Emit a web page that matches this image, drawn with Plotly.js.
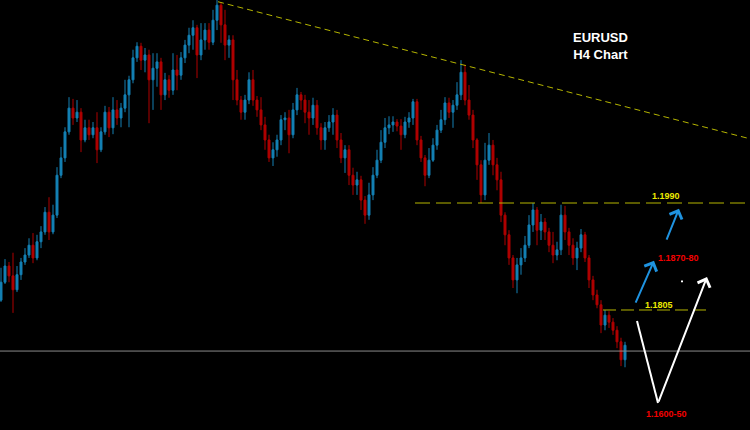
<!DOCTYPE html>
<html>
<head>
<meta charset="utf-8">
<script src="https://cdn.plot.ly/plotly-3.0.1.min.js"></script>
<style>html,body{margin:0;padding:0;background:#000;}#chart{width:750px;height:430px;}</style>
</head>
<body>
<div id="chart"></div>
<script>
// EURUSD H4 candles
const opens = [1.1822,1.1853,1.1881,1.1864,1.1840,1.1866,1.1888,1.1900,1.1917,1.1895,
1.1923,1.1940,1.1974,1.1940,1.1969,1.2038,1.2068,1.2113,1.2154,1.2137,
1.2147,1.2099,1.2120,1.2108,1.2120,1.2082,1.2113,1.2147,1.2120,1.2151,
1.2137,1.2154,1.2177,1.2203,1.2241,1.2261,1.2237,1.2246,1.2203,1.2223,
1.2234,1.2177,1.2203,1.2185,1.2220,1.2211,1.2241,1.2263,1.2280,1.2293,
1.2246,1.2272,1.2289,1.2268,1.2306,1.2332,1.2298,1.2263,1.2272,1.2203,
1.2168,1.2147,1.2168,1.2203,1.2168,1.2151,1.2125,1.2099,1.2068,1.2082,
1.2099,1.2134,1.2137,1.2108,1.2151,1.2177,1.2168,1.2147,1.2137,1.2159,
1.2120,1.2099,1.2120,1.2130,1.2142,1.2099,1.2068,1.2082,1.2038,1.2021,
1.2030,1.1995,1.1969,1.2004,1.2038,1.2064,1.2095,1.2120,1.2125,1.2130,
1.2123,1.2108,1.2130,1.2137,1.2165,1.2099,1.2068,1.2038,1.2064,1.2090,
1.2116,1.2134,1.2163,1.2147,1.2159,1.2177,1.2216,1.2168,1.2142,1.2099,
1.2056,1.2004,1.2064,1.2090,1.2056,1.2030,1.1969,1.1935,1.1895,1.1857,
1.1883,1.1895,1.1917,1.1952,1.1978,1.1943,1.1957,1.1940,1.1917,1.1900,
1.1909,1.1969,1.1940,1.1917,1.1895,1.1912,1.1935,1.1895,1.1857,1.1831,
1.1814,1.1779,1.1796,1.1784,1.1770,1.1750,1.1719];
const highs = [1.1878,1.1893,1.1888,1.1904,1.1881,1.1895,1.1912,1.1929,1.1938,1.1935,
1.1950,1.1983,1.2000,1.1987,1.2052,1.2087,1.2121,1.2173,1.2170,1.2168,
1.2154,1.2134,1.2134,1.2130,1.2147,1.2121,1.2158,1.2156,1.2173,1.2168,
1.2163,1.2203,1.2210,1.2255,1.2268,1.2267,1.2258,1.2255,1.2249,1.2249,
1.2241,1.2215,1.2211,1.2249,1.2246,1.2251,1.2272,1.2293,1.2306,1.2298,
1.2301,1.2301,1.2301,1.2324,1.2341,1.2337,1.2324,1.2280,1.2280,1.2220,
1.2175,1.2177,1.2216,1.2220,1.2175,1.2173,1.2139,1.2108,1.2095,1.2108,
1.2142,1.2147,1.2151,1.2163,1.2189,1.2182,1.2177,1.2168,1.2172,1.2168,
1.2128,1.2130,1.2142,1.2154,1.2151,1.2111,1.2090,1.2090,1.2051,1.2044,
1.2037,1.2002,1.2025,1.2052,1.2082,1.2116,1.2137,1.2140,1.2140,1.2135,
1.2135,1.2139,1.2147,1.2170,1.2170,1.2106,1.2073,1.2085,1.2102,1.2125,
1.2151,1.2173,1.2172,1.2168,1.2199,1.2237,1.2229,1.2194,1.2151,1.2102,
1.2064,1.2094,1.2111,1.2099,1.2068,1.2044,1.1974,1.1943,1.1900,1.1895,
1.1912,1.1933,1.1969,1.1990,1.1983,1.1971,1.1964,1.1947,1.1940,1.1923,
1.1987,1.1985,1.1947,1.1929,1.1923,1.1945,1.1940,1.1900,1.1864,1.1840,
1.1822,1.1805,1.1803,1.1791,1.1777,1.1757,1.1750];
const lows = [1.1819,1.1850,1.1853,1.1800,1.1836,1.1857,1.1883,1.1895,1.1886,1.1891,
1.1912,1.1935,1.1926,1.1936,1.1964,1.2033,1.2061,1.2108,1.2125,1.2130,
1.2078,1.2095,1.2099,1.2102,1.2059,1.2078,1.2108,1.2104,1.2109,1.2125,
1.2121,1.2147,1.2121,1.2197,1.2234,1.2220,1.2216,1.2128,1.2151,1.2191,
1.2151,1.2168,1.2172,1.2177,1.2185,1.2203,1.2232,1.2249,1.2255,1.2206,
1.2237,1.2255,1.2255,1.2263,1.2289,1.2267,1.2237,1.2241,1.2168,1.2159,
1.2134,1.2134,1.2161,1.2158,1.2139,1.2116,1.2082,1.2061,1.2054,1.2070,
1.2090,1.2116,1.2076,1.2102,1.2142,1.2151,1.2128,1.2108,1.2125,1.2108,
1.2082,1.2082,1.2113,1.2108,1.2085,1.2059,1.2042,1.2021,1.2004,1.2004,
1.1978,1.1954,1.1961,1.1995,1.2033,1.2059,1.2085,1.2109,1.2113,1.2114,
1.2082,1.2102,1.2120,1.2125,1.2090,1.2061,1.2019,1.2033,1.2061,1.2082,
1.2111,1.2125,1.2137,1.2120,1.2151,1.2168,1.2159,1.2134,1.2085,1.2030,
1.1990,1.1995,1.2056,1.2038,1.2012,1.1957,1.1917,1.1883,1.1843,1.1834,
1.1866,1.1888,1.1912,1.1940,1.1917,1.1926,1.1926,1.1905,1.1886,1.1891,
1.1900,1.1926,1.1900,1.1883,1.1874,1.1905,1.1888,1.1843,1.1822,1.1808,
1.1765,1.1770,1.1774,1.1762,1.1739,1.1708,1.1706];
const closes = [1.1853,1.1881,1.1864,1.1840,1.1866,1.1888,1.1900,1.1917,1.1895,1.1923,
1.1940,1.1974,1.1940,1.1969,1.2038,1.2068,1.2113,1.2154,1.2137,1.2147,
1.2099,1.2120,1.2108,1.2120,1.2082,1.2113,1.2147,1.2120,1.2151,1.2137,
1.2154,1.2177,1.2203,1.2241,1.2261,1.2237,1.2246,1.2203,1.2223,1.2234,
1.2177,1.2203,1.2185,1.2220,1.2211,1.2241,1.2263,1.2280,1.2293,1.2246,
1.2272,1.2289,1.2268,1.2306,1.2332,1.2298,1.2263,1.2272,1.2203,1.2168,
1.2147,1.2168,1.2203,1.2168,1.2151,1.2125,1.2099,1.2068,1.2082,1.2099,
1.2134,1.2137,1.2108,1.2151,1.2177,1.2168,1.2147,1.2137,1.2159,1.2120,
1.2099,1.2120,1.2130,1.2142,1.2099,1.2068,1.2082,1.2038,1.2021,1.2030,
1.1995,1.1969,1.2004,1.2038,1.2064,1.2095,1.2120,1.2125,1.2130,1.2123,
1.2108,1.2130,1.2137,1.2165,1.2099,1.2068,1.2038,1.2064,1.2090,1.2116,
1.2134,1.2163,1.2147,1.2159,1.2177,1.2216,1.2168,1.2142,1.2099,1.2056,
1.2004,1.2064,1.2090,1.2056,1.2030,1.1969,1.1935,1.1895,1.1857,1.1883,
1.1895,1.1917,1.1952,1.1978,1.1943,1.1957,1.1940,1.1917,1.1900,1.1909,
1.1969,1.1940,1.1917,1.1895,1.1912,1.1935,1.1895,1.1857,1.1831,1.1814,
1.1779,1.1796,1.1784,1.1770,1.1750,1.1719,1.1744];

// Key levels and labels
const resistance = 1.1990;
const support = 1.1805;
const currentPrice = 1.1734;
const titleLines = ["EURUSD", "H4 Chart"];
const levelLabels = ["1.1990", "1.1870-80", "1.1805", "1.1600-50"];

const xs = closes.map((_, i) => i);

const yellowLine = "#b5b500";
const yellowText = "#ecec00";
const redText = "#f20000";
const blueArrow = "#1f93e0";
const fontFam = "Liberation Sans, Arial, sans-serif";

const trace = {
  type: "candlestick",
  x: xs, open: opens, high: highs, low: lows, close: closes,
  increasing: {line: {color: "#1480b4", width: 1}, fillcolor: "#1480b4"},
  decreasing: {line: {color: "#b00000", width: 1}, fillcolor: "#b00000"},
  whiskerwidth: 0,
  hoverinfo: "skip",
  showlegend: false
};

const shapes = [
  // falling trendline
  {type: "line", xref: "x", yref: "y", x0: 54.25, y0: 1.2338, x1: 187.25, y1: 1.2101,
   line: {color: yellowLine, width: 1, dash: "6px,4px"}},
  // resistance 1.1990
  {type: "line", xref: "x", yref: "y", x0: 103.5, y0: resistance, x1: 187.25, y1: resistance,
   line: {color: yellowLine, width: 1, dash: "15px,6px"}},
  // support 1.1805
  {type: "line", xref: "x", yref: "y", x0: 150.5, y0: support, x1: 176.75, y1: support,
   line: {color: yellowLine, width: 1, dash: "13px,5px"}},
  // current price line
  {type: "line", xref: "paper", yref: "y", x0: 0, y0: currentPrice, x1: 1, y1: currentPrice,
   line: {color: "#8a8a8a", width: 1}},
  // white V left leg
  {type: "line", xref: "x", yref: "y", x0: 159.0, y0: 1.1786, x1: 164.25, y1: 1.1644,
   line: {color: "#ffffff", width: 2}},
  // small white dot
  {type: "rect", xref: "x", yref: "y", x0: 170.0, y0: 1.1853, x1: 170.5, y1: 1.1856,
   line: {width: 0}, fillcolor: "#ffffff"}
];

function label(text, x, y, color, size) {
  return {text: "<b>" + text + "</b>", x: x, y: y, xref: "x", yref: "y", showarrow: false,
          font: {family: fontFam, size: size, color: color}, xanchor: "center", yanchor: "middle"};
}
function arrow(x, y, ax, ay, color) {
  return {text: "", x: x, y: y, ax: ax, ay: ay, xref: "x", yref: "y", axref: "x", ayref: "y",
          showarrow: true, arrowhead: 4, arrowsize: 1.3, arrowwidth: 2, arrowcolor: color,
          standoff: 0, startstandoff: 0};
}

const annotations = [
  label(titleLines.join("</b><br><b>"), 149.75, 1.2262, "#ffffff", 13),
  label(levelLabels[0], 166.25, 1.2002, yellowText, 9),
  label(levelLabels[1], 169.25, 1.1895, redText, 9),
  label(levelLabels[2], 164.5, 1.1814, yellowText, 9),
  label(levelLabels[3], 166.25, 1.1625, redText, 9),
  arrow(163.25, 1.1890, 158.5, 1.1815, blueArrow),
  arrow(169.5, 1.1980, 166.25, 1.1924, blueArrow),
  arrow(176.5, 1.1862, 164.25, 1.1644, "#ffffff")
];

const layout = {
  width: 750, height: 430,
  margin: {l: 0, r: 0, t: 0, b: 0, pad: 0},
  paper_bgcolor: "#000000", plot_bgcolor: "#000000",
  showlegend: false, hovermode: false,
  xaxis: {range: [-0.25, 187.25], visible: false, showgrid: false, zeroline: false,
          rangeslider: {visible: false}, fixedrange: true},
  yaxis: {range: [1.15975, 1.2341], visible: false, showgrid: false, zeroline: false, fixedrange: true},
  shapes: shapes,
  annotations: annotations
};

Plotly.newPlot("chart", [trace], layout, {staticPlot: true, displayModeBar: false});
</script>
</body>
</html>
